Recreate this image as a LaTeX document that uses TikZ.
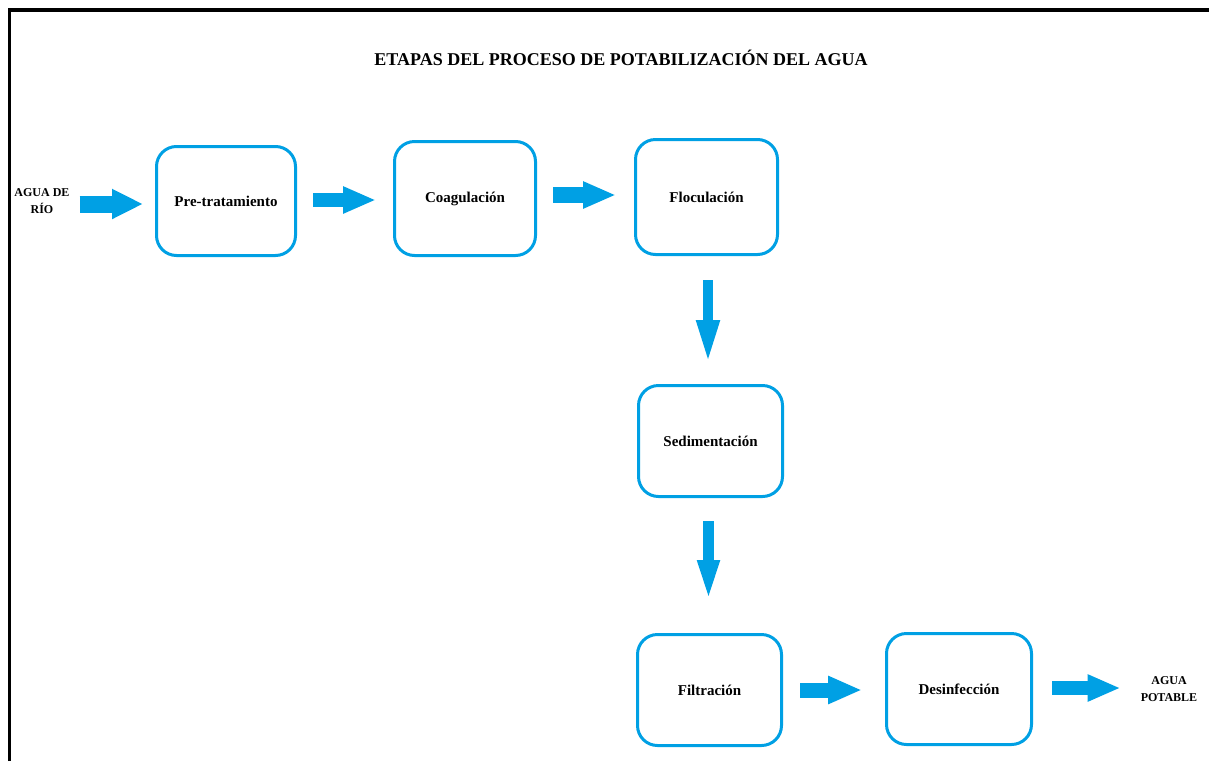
\documentclass[tikz,border=0pt]{standalone}
\usepackage{fontspec}
\setmainfont{Liberation Serif}
\usetikzlibrary{arrows.meta,calc}
\definecolor{wblue}{RGB}{0,160,228}
\tikzset{
  stage/.style={draw=wblue, line width=3pt, rounded corners=20pt, fill=white,
    inner sep=0pt, font=\fontsize{15}{17}\selectfont\bfseries, align=center},
  endlabel/.style={font=\fontsize{12}{17}\selectfont\bfseries, align=center, inner sep=0pt},
}
\begin{document}
\begin{tikzpicture}[x=1pt,y=-1pt]
\useasboundingbox (0,0) rectangle (1209,761);
\fill[white] (0,0) rectangle (1209,761);
% frame
\draw[line width=3.5pt] (9.5,761) -- (9.5,10) -- (1209,10);
% title
\node[font=\fontsize{18}{20}\selectfont\bfseries] (title) at (621,58) {ETAPAS DEL PROCESO DE POTABILIZACIÓN DEL AGUA};
% stages
\node[stage, minimum width=139pt, minimum height=109pt] (pre) at (226,201) {Pre-tratamiento};
\node[stage, minimum width=141pt, minimum height=114pt] (coag) at (465,198.5) {Coagulación};
\node[stage, minimum width=142pt, minimum height=115pt] (floc) at (706.5,197) {Floculación};
\node[stage, minimum width=144pt, minimum height=111pt] (sed) at (710.5,441) {Sedimentación};
\node[stage, minimum width=144pt, minimum height=111pt] (filt) at (709.5,690) {Filtración};
\node[stage, minimum width=145pt, minimum height=111pt] (des) at (959,689) {Desinfección};
% end labels
\node[endlabel] (rio) at (42,201) {AGUA DE\\RÍO};
\node[endlabel] (pot) at (1169,689) {AGUA\\POTABLE};
% arrows
\draw[wblue, line width=17pt, -{Triangle[length=31pt,width=28pt]}]
  ([xshift=10pt]rio.east |- 0,204) -- ([xshift=-12pt]pre.west |- 0,204);
\draw[wblue, line width=14pt, -{Triangle[length=33pt,width=25pt]}]
  ([xshift=16pt]pre.east |- 0,200) -- ([xshift=-17pt]coag.west |- 0,200);
\draw[wblue, line width=16pt, -{Triangle[length=33pt,width=25pt]}]
  ([xshift=16pt]coag.east |- 0,195) -- ([xshift=-18pt]floc.west |- 0,195);
\draw[wblue, line width=10pt, -{Triangle[length=44pt,width=21pt]}]
  ([yshift=-24pt]floc.south -| 708,0) -- ([yshift=20pt]sed.north -| 708,0);
\draw[wblue, line width=11pt, -{Triangle[length=45pt,width=19pt]}]
  ([yshift=-23pt]sed.south -| 708.5,0) -- ([yshift=28pt]filt.north -| 708.5,0);
\draw[wblue, line width=15pt, -{Triangle[length=34pt,width=26pt]}]
  ([xshift=17pt]filt.east |- 0,690) -- ([xshift=-23pt]des.west |- 0,690);
\draw[wblue, line width=14pt, -{Triangle[length=33pt,width=25pt]}]
  ([xshift=19pt]des.east |- 0,688) -- ([xshift=-20pt]pot.west |- 0,688);
\end{tikzpicture}
\end{document}
